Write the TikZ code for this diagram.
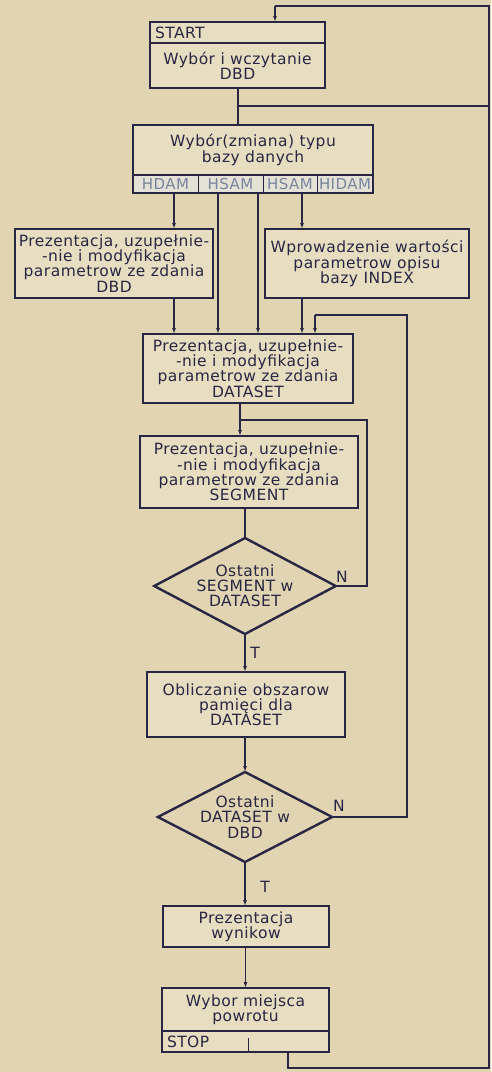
\documentclass[tikz,border=0pt]{standalone}
\usepackage{fontspec}
\setmainfont{DejaVu Sans}[LetterSpace=3]
\usetikzlibrary{shapes.geometric,arrows.meta}

\definecolor{paper}{RGB}{224,212,178}
\definecolor{boxfill}{RGB}{231,222,194}
\definecolor{ink}{RGB}{40,38,66}
\definecolor{rowfill}{RGB}{228,226,214}
\definecolor{rowtext}{RGB}{120,132,158}

\newcommand\flowtxt{\fontsize{15.5}{15.2}\selectfont}
\newcommand\rowtxt{\fontsize{15}{15}\selectfont}

\begin{document}
\begin{tikzpicture}[x=1pt,y=-1pt,
  box/.style={draw=ink, line width=2.4pt, fill=boxfill, inner sep=1pt, outer sep=0pt,
    align=center, font=\flowtxt, text=ink},
  cell/.style={draw=ink, line width=1pt, fill=rowfill, inner sep=0pt, outer sep=0pt,
    font=\rowtxt, text=rowtext, minimum height=18pt},
  dia/.style={shape=diamond, aspect=2, draw=ink, line width=2.4pt, inner sep=0pt,
    outer sep=0pt, align=center, font=\flowtxt, text=ink},
  flow/.style={draw=ink, line width=1.2pt},
  arr/.style={flow, -{Latex[length=6pt,width=4pt]}},
  lbl/.style={font=\flowtxt, text=ink, inner sep=0pt}]

\fill[paper] (0,0) rectangle (491,1072);

% header boxes
\node[box, minimum width=175pt, minimum height=21pt, text width=165pt, align=left]
  (start) at (237.5,32.5) {START};
\node[box, minimum width=175pt, minimum height=45pt] (load) at (237.5,65.5)
  {Wybór i wczytanie\\DBD};

% database type selection with its row of access methods
\node[box, minimum width=240pt, minimum height=50pt] (type) at (253,150)
  {Wybór(zmiana) typu\\bazy danych};
\node[cell, minimum width=65pt] (hdam)  at (165.5,184) {HDAM};
\node[cell, minimum width=65pt] (hsamA) at (230.5,184) {HSAM};
\node[cell, minimum width=54pt] (hsamB) at (290,184)   {HSAM};
\node[cell, minimum width=56pt] (hidam) at (345,184)   {HIDAM};
\draw[ink, line width=2.4pt] (type.north west) rectangle (hidam.south east);

% parameter boxes
\node[box, minimum width=198pt, minimum height=69pt] (dbd) at (114,263.5)
  {Prezentacja, uzupełnie-\\-nie i modyfikacja\\parametrow ze zdania\\DBD};
\node[box, minimum width=204pt, minimum height=69pt] (index) at (367,263.5)
  {Wprowadzenie wartości\\parametrow opisu\\bazy INDEX};
\node[box, minimum width=210pt, minimum height=69pt] (dataset) at (248,368.5)
  {Prezentacja, uzupełnie-\\-nie i modyfikacja\\parametrow ze zdania\\DATASET};
\node[box, minimum width=218pt, minimum height=72pt] (segment) at (249,472)
  {Prezentacja, uzupełnie-\\-nie i modyfikacja\\parametrow ze zdania\\SEGMENT};

\node[dia, minimum width=178pt, minimum height=96pt] (dseg) at (245,586)
  {Ostatni\\SEGMENT w\\DATASET};
\node[box, minimum width=198pt, minimum height=65pt] (calc) at (246,704.5)
  {Obliczanie obszarow\\pamięci dla\\DATASET};
\node[dia, minimum width=170pt, minimum height=90pt] (ddset) at (245,817)
  {Ostatni\\DATASET w\\DBD};
\node[box, minimum width=166pt, minimum height=41pt] (result) at (246,926.5)
  {Prezentacja\\wynikow};
\node[box, minimum width=167pt, minimum height=43pt] (ret) at (245.5,1009.5)
  {Wybor miejsca\\powrotu};
\node[box, minimum width=167pt, minimum height=21pt, text width=157pt, align=left]
  (stop) at (245.5,1041.5) {STOP};

% return loop along the right edge
\coordinate (loopBL) at (288,1068);
\coordinate (loopBR) at (489,1068);
\coordinate (loopTR) at (489,6);
\coordinate (loopTL) at (275,6);
\coordinate (j1) at (238,106);
\draw[flow] (stop.south -| loopBL) -- (loopBL) -- (loopBR) -- (loopTR) -- (loopTL);
\draw[arr] (loopTL) -- (start.north -| loopTL);
\draw[flow] (load.south -| j1) -- (type.north -| j1);
\draw[flow] (j1) -- (loopTR |- j1);
\coordinate (tick) at (248,1038);
\draw[ink, line width=1pt] (tick) -- (stop.south -| tick);

% branches from the access methods
\coordinate (b1) at (174,0);
\coordinate (b2) at (218,0);
\coordinate (b3) at (258,0);
\coordinate (b4) at (302,0);
\draw[arr] (hdam.south -| b1)  -- (dbd.north -| b1);
\draw[arr] (hsamA.south -| b2) -- (dataset.north -| b2);
\draw[arr] (hsamB.south -| b3) -- (dataset.north -| b3);
\draw[arr] (hidam.south -| b4) -- (index.north -| b4);
\draw[arr] (dbd.south -| b1)   -- (dataset.north -| b1);
\draw[arr] (index.south -| b4) -- (dataset.north -| b4);

% DATASET loop
\coordinate (dsX) at (407,315);
\coordinate (dsIn) at (315,315);
\draw[flow] (ddset.east) -| (dsX) -- (dsIn);
\draw[arr] (dsIn) -- (dataset.north -| dsIn);

% SEGMENT loop
\coordinate (segX) at (367,420);
\coordinate (segJ) at (240,420);
\draw[flow] (dseg.east) -| (segX) -- (segJ);
\draw[arr] (dataset.south -| segJ) -- (segment.north -| segJ);

% main vertical flow
\draw[flow] (segment.south -| dseg.north) -- (dseg.north);
\draw[arr] (dseg.south) -- (calc.north -| dseg.south);
\draw[arr] (calc.south -| ddset.north) -- (ddset.north);
\draw[arr] (ddset.south) -- (result.north -| ddset.south);
\draw[arr] (result.south -| ret.north) -- (ret.north);

% decision labels
\node[lbl] (nseg) at (342,577) {N};
\node[lbl] (tseg) at (255,653) {T};
\node[lbl] (ndset) at (339,806) {N};
\node[lbl] (tdset) at (265,887) {T};

\end{tikzpicture}
\end{document}
